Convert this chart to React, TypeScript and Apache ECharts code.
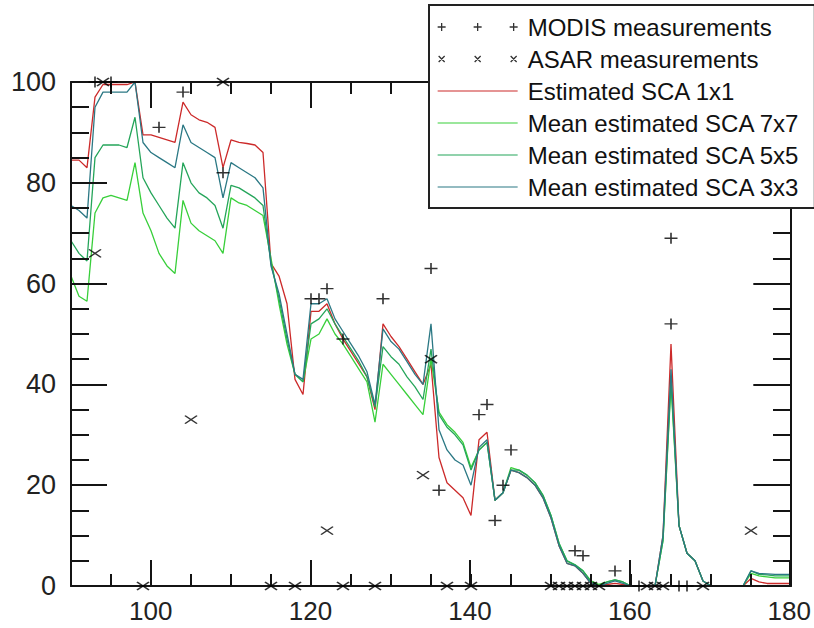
import React, { useEffect, useRef } from "react";
import * as echarts from "echarts";

// ---- data ----
const days = [
  90, 91, 92, 93, 94, 95, 96, 97, 98, 99, 100, 101, 102, 103, 104, 105, 106, 107, 108, 109,
  110, 111, 112, 113, 114, 115, 116, 117, 118, 119, 120, 121, 122, 123, 124, 125, 126, 127, 128, 129,
  130, 131, 132, 133, 134, 135, 136, 137, 138, 139, 140, 141, 142, 143, 144, 145, 146, 147, 148, 149,
  150, 151, 152, 153, 154, 155, 156, 157, 158, 159, 160, 161, 162, 163, 164, 165, 166, 167, 168, 169,
  170, 171, 172, 173, 174, 175, 176, 177, 178, 179, 180,
];

const sca1x1 = [
  84.5, 84.5, 83, 97, 99.5, 99.5, 99.5, 99.5, 100, 89.5, 89.5, 89, 88.5, 88, 96, 93.5, 92.5, 92, 91, 83,
  88.5, 88, 87.8, 87.5, 86, 64, 61.5, 56, 41, 38, 54.5, 54.5, 56, 52, 49, 46.5, 44, 41.5, 35, 52,
  49.5, 47.5, 45, 42.5, 40, 44, 25.5, 20.5, 19, 17.5, 14, 29, 30.5, 17, 18.5, 23, 22.5, 21.5, 20, 17.5,
  13.5, 8, 4.5, 4, 2.5, 0.5, 0, 0.3, 0.5, 0.3, 0, 0, 0, 0, 10, 48, 12, 6.5, 5, 1,
  0, null, null, null, 0, 1.5, 0.8, 0.5, 0.5, 0.5, 0.5,
];

const sca7x7 = [
  61.5, 57.5, 56.5, 74, 77, 77.5, 77, 76.5, 84, 74, 70.5, 66, 63.5, 62, 76.5, 72, 70.5, 69.5, 68.5, 66,
  77, 76, 75.5, 74.5, 73.5, 65, 56, 48, 42, 40.5, 49, 50, 53, 50, 48, 45.5, 43, 40.5, 32.5, 44,
  42, 40, 38, 36, 34, 45, 34.5, 32, 30.5, 28.5, 23.5, 27, 28.5, 17, 18.5, 23.5, 23, 22, 20.5, 18,
  14, 8.5, 5, 4.2, 3, 1, 0.3, 0.8, 1.2, 0.8, 0, 0, 0, 0, 9, 40, 12, 6.5, 5, 1,
  0, null, null, null, 0, 2.5, 2, 1.8, 1.6, 1.6, 1.6,
];

const sca5x5 = [
  68.5, 66, 64.5, 85, 87.5, 87.5, 87.5, 87, 93, 81, 78, 75.5, 73, 71, 84, 80, 78, 77, 75.5, 71,
  79.5, 79, 78, 77, 75.5, 64, 57, 49, 42, 40.5, 52, 53, 55, 52, 49.5, 47, 44.5, 41.5, 35.5, 47.5,
  45.5, 44, 41.5, 39.5, 37, 47, 34, 31.5, 30, 28, 23, 27, 28.5, 17, 18.5, 23, 23, 22, 20.5, 18,
  14, 8.5, 5, 4.2, 3, 0.8, 0, 0.8, 1.2, 0.8, 0, 0, 0, 0, 9, 41, 12, 6.5, 5, 1,
  0, null, null, null, 0, 3, 2.3, 2.2, 2, 2, 2,
];

const sca3x3 = [
  75.5, 74.5, 73, 95, 98, 98, 98, 98, 100, 88, 86, 85, 84, 83, 91.5, 88, 87, 86, 85, 77,
  84, 83, 82, 81, 79, 63.5, 58, 50, 42, 41, 56, 56, 57, 53, 50.5, 48, 45.5, 42.5, 36, 51,
  48.5, 47, 44.5, 42, 40, 52, 31, 27, 25, 24, 20, 27.5, 29, 17, 18.5, 23, 22.5, 21.5, 20, 17.5,
  13.5, 8, 4.5, 4, 2.5, 0.5, 0, 0.5, 1, 0.5, 0, 0, 0, 0, 10, 43, 12, 6.5, 5, 1,
  0, null, null, null, 0, 3, 2.5, 2.4, 2.3, 2.3, 2.3,
];

const modisDays = [93, 95, 101, 104, 109, 120, 121, 122, 124, 129, 135, 136, 141, 142, 143, 144, 145, 153, 154, 158, 161, 165, 165, 166, 167];
const modisValues = [100, 100, 91, 98, 82, 57, 57, 59, 49, 57, 63, 19, 34, 36, 13, 20, 27, 7, 6, 3, 0, 52, 69, 0, 0];

const asarDays = [93, 94, 99, 105, 109, 115, 118, 122, 124, 128, 134, 135, 137, 140, 150, 151, 152, 153, 154, 155, 156, 162, 163, 164, 169, 175];
const asarValues = [66, 100, 0, 33, 100, 0, 0, 11, 0, 0, 22, 45, 0, 0, 0, 0, 0, 0, 0, 0, 0, 0, 0, 0, 0, 11];

const xMajorTicks = [100, 120, 140, 160, 180];

const seriesNames = [
  "MODIS measurements",
  "ASAR measurements",
  "Estimated SCA 1x1",
  "Mean estimated SCA 7x7",
  "Mean estimated SCA 5x5",
  "Mean estimated SCA 3x3",
];

// ---- styling ----
const FONT = "'Liberation Sans', Arial, Helvetica, sans-serif";
const AXIS = "#141414";
const COLORS = {
  r1: "#cc2a2a",
  g7: "#38cf3a",
  g5: "#25a55a",
  t3: "#2b7884",
};

const plusSymbol = "path://M0,5L10,5M5,0L5,10";
const crossSymbol = "path://M0,0L10,10M10,0L0,10";
const plusLegend = "path://M0,4L8,4M4,0L4,8M36,4L44,4M40,0L40,8M72,4L80,4M76,0L76,8";
const crossLegend = "path://M0,0M1,1L7,7M7,1L1,7M37,1L43,7M43,1L37,7M73,1L79,7M79,1L73,7M80,8";
const lineLegend = "path://M0,0M0,3.4L80,3.4L80,4.6L0,4.6ZM80,8";

function pairs(xs: number[], ys: (number | null)[]) {
  return xs.map((x, i) => [x, ys[i]]);
}

const gridBox = { left: 71, right: 23, top: 82, bottom: 42 };

function minorX(pos: "top" | "bottom") {
  return {
    gridIndex: 0,
    type: "value",
    position: pos,
    min: 90,
    max: 180,
    interval: 5,
    z: 3,
    axisLine: { show: true, onZero: false, lineStyle: { color: AXIS, width: 2 } },
    axisTick: { show: true, inside: true, length: 12, lineStyle: { color: AXIS, width: 2 } },
    axisLabel: { show: false },
    splitLine: { show: false },
  };
}

function majorX(pos: "top" | "bottom") {
  return {
    gridIndex: 1,
    type: "value",
    position: pos,
    min: 90,
    max: 180,
    z: 3,
    axisLine: { show: false, onZero: false },
    axisTick: {
      show: true,
      inside: true,
      length: 26,
      customValues: xMajorTicks,
      lineStyle: { color: AXIS, width: 2 },
    },
    axisLabel: {
      show: pos === "bottom",
      customValues: xMajorTicks,
      fontSize: 26,
      fontFamily: FONT,
      color: "#222",
      margin: 12,
    },
    splitLine: { show: false },
  };
}

function minorY(pos: "left" | "right") {
  return {
    gridIndex: 0,
    type: "value",
    position: pos,
    min: 0,
    max: 100,
    interval: 5,
    z: 3,
    axisLine: { show: true, onZero: false, lineStyle: { color: AXIS, width: 2 } },
    axisTick: { show: true, inside: true, length: 18, lineStyle: { color: AXIS, width: 2 } },
    axisLabel: { show: false },
    splitLine: { show: false },
  };
}

function majorY(pos: "left" | "right") {
  return {
    gridIndex: 1,
    type: "value",
    position: pos,
    min: 0,
    max: 100,
    interval: 20,
    z: 3,
    axisLine: { show: false, onZero: false },
    axisTick: { show: true, inside: true, length: 36, lineStyle: { color: AXIS, width: 2 } },
    axisLabel: {
      show: pos === "left",
      fontSize: 27,
      fontFamily: FONT,
      color: "#222",
      margin: 15,
    },
    splitLine: { show: false },
  };
}

function lineSeries(name: string, values: (number | null)[], color: string) {
  return {
    name,
    type: "line",
    xAxisIndex: 0,
    yAxisIndex: 0,
    data: pairs(days, values),
    symbol: "none",
    showSymbol: false,
    connectNulls: false,
    lineStyle: { color, width: 1.3 },
    itemStyle: { color },
    z: 2,
  };
}

function lineLegendItem(name: string, color: string) {
  return {
    name,
    icon: lineLegend,
    itemStyle: { color, borderWidth: 0, opacity: 1 },
  };
}

export default function App() {
  const ref = useRef<HTMLDivElement>(null);

  useEffect(() => {
    if (!ref.current) return;
    const chart = echarts.init(ref.current, undefined, { renderer: "svg" });
    const option = {
      animation: false,
      backgroundColor: "#ffffff",
      grid: [gridBox, gridBox],
      xAxis: [minorX("bottom"), minorX("top"), majorX("bottom"), majorX("top")],
      yAxis: [minorY("left"), minorY("right"), majorY("left"), majorY("right")],
      legend: {
        show: true,
        orient: "vertical",
        left: 429,
        top: 5,
        z: 10,
        padding: [10, 15, 9, 8],
        itemGap: 8,
        itemWidth: 80,
        itemHeight: 8,
        selectedMode: false,
        backgroundColor: "#ffffff",
        borderColor: "#222",
        borderWidth: 2,
        borderRadius: 0,
        textStyle: { fontSize: 24, fontFamily: FONT, color: "#111", padding: [0, 0, 0, 5] },
        data: [
          {
            name: seriesNames[0],
            icon: plusLegend,
            itemStyle: { color: "transparent", borderColor: "#000", borderWidth: 1.3 },
          },
          {
            name: seriesNames[1],
            icon: crossLegend,
            itemStyle: { color: "transparent", borderColor: "#000", borderWidth: 1.3 },
          },
          lineLegendItem(seriesNames[2], COLORS.r1),
          lineLegendItem(seriesNames[3], COLORS.g7),
          lineLegendItem(seriesNames[4], COLORS.g5),
          lineLegendItem(seriesNames[5], COLORS.t3),
        ],
      },
      series: [
        lineSeries(seriesNames[2], sca1x1, COLORS.r1),
        lineSeries(seriesNames[3], sca7x7, COLORS.g7),
        lineSeries(seriesNames[4], sca5x5, COLORS.g5),
        lineSeries(seriesNames[5], sca3x3, COLORS.t3),
        {
          name: seriesNames[0],
          type: "scatter",
          xAxisIndex: 0,
          yAxisIndex: 0,
          data: pairs(modisDays, modisValues),
          symbol: plusSymbol,
          symbolSize: [13, 11],
          itemStyle: { color: "transparent", borderColor: "#000", borderWidth: 1.5 },
          z: 4,
        },
        {
          name: seriesNames[1],
          type: "scatter",
          xAxisIndex: 0,
          yAxisIndex: 0,
          data: pairs(asarDays, asarValues),
          symbol: crossSymbol,
          symbolSize: [12, 8],
          itemStyle: { color: "transparent", borderColor: "#000", borderWidth: 1.5 },
          z: 4,
        },
      ],
    };
    chart.setOption(option as any);
    return () => {
      chart.dispose();
    };
  }, []);

  return (
    <div
      ref={ref}
      style={{ position: "fixed", left: 0, top: 0, width: 814, height: 628, background: "#fff" }}
    />
  );
}
